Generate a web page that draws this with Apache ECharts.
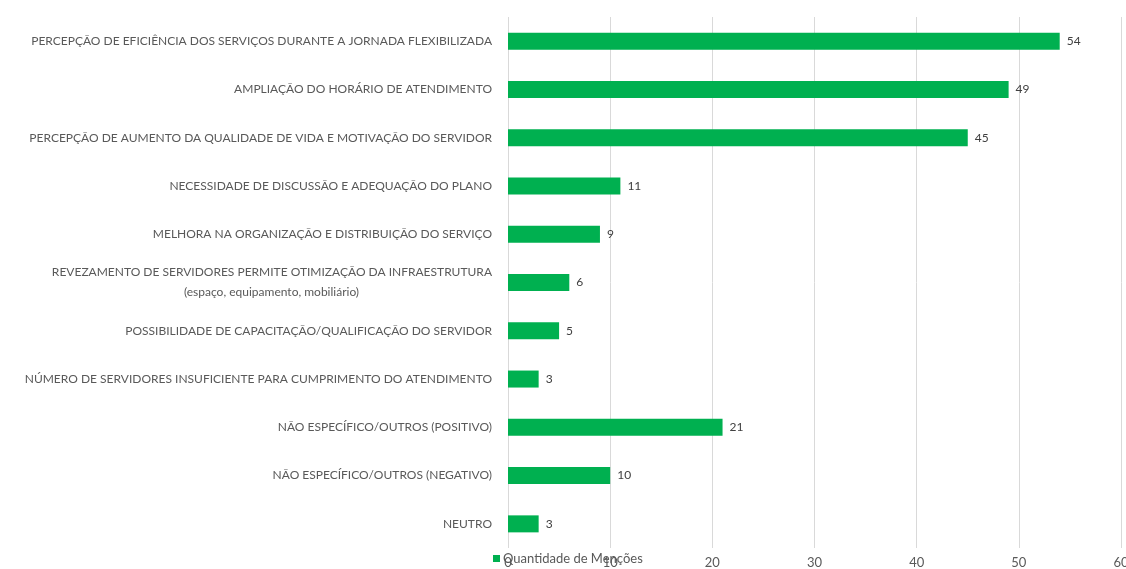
<!DOCTYPE html>
<html><head><meta charset="utf-8">
<script src="https://cdn.jsdelivr.net/npm/echarts@6/dist/echarts.min.js"></script>
<style>html,body{margin:0;padding:0;background:#fff}#c{width:1126px;height:569px}</style>
</head><body><div id="c"></div>
<script>
const categories = [
  "PERCEPÇÃO DE EFICIÊNCIA DOS SERVIÇOS DURANTE A JORNADA FLEXIBILIZADA",
  "AMPLIAÇÃO DO HORÁRIO DE ATENDIMENTO",
  "PERCEPÇÃO DE AUMENTO DA QUALIDADE DE VIDA E MOTIVAÇÃO DO SERVIDOR",
  "NECESSIDADE DE DISCUSSÃO E ADEQUAÇÃO DO PLANO",
  "MELHORA NA ORGANIZAÇÃO E DISTRIBUIÇÃO DO SERVIÇO",
  "REVEZAMENTO DE SERVIDORES PERMITE OTIMIZAÇÃO DA INFRAESTRUTURA\n(espaço, equipamento, mobiliário)",
  "POSSIBILIDADE DE CAPACITAÇÃO/QUALIFICAÇÃO DO SERVIDOR",
  "NÚMERO DE SERVIDORES INSUFICIENTE PARA CUMPRIMENTO DO ATENDIMENTO",
  "NÃO ESPECÍFICO/OUTROS (POSITIVO)",
  "NÃO ESPECÍFICO/OUTROS (NEGATIVO)",
  "NEUTRO"
];
const values = [54, 49, 45, 11, 9, 6, 5, 3, 21, 10, 3];
const seriesName = "Quantidade de Menções";
const xTicks = [0, 10, 20, 30, 40, 50, 60];

const FONT = "Lato";
const labelFontSize = 12;
const ctx = document.createElement('canvas').getContext('2d');
ctx.font = labelFontSize + "px " + FONT;

const chart = echarts.init(document.getElementById('c'));
chart.setOption({
  animation: false,
  textStyle: { fontFamily: FONT },
  grid: { left: 508, right: 5, top: 17, bottom: 21, containLabel: false, outerBoundsMode: 'none' },
  legend: {
    data: [seriesName], left: 488, top: 547, itemWidth: 7, itemHeight: 7, itemGap: 4,
    icon: 'rect', textStyle: { color: '#595959', fontSize: 13, fontFamily: FONT, padding: [0,0,0,-2] }
  },
  xAxis: {
    type: 'value', min: 0, max: 60, interval: 10,
    axisLine: { show: false }, axisTick: { show: false },
    splitLine: { lineStyle: { color: '#d9d9d9', width: 1 } },
    axisLabel: { color: '#595959', fontSize: 13, margin: 8,
      formatter: v => xTicks.includes(v) ? String(v) : '' }
  },
  yAxis: {
    type: 'category', data: categories, inverse: true,
    axisLine: { show: false }, axisTick: { show: false },
    axisLabel: {
      color: '#595959', fontSize: labelFontSize, margin: 16, lineHeight: 20,
      formatter: function (v) {
        const lines = v.split('\n');
        if (lines.length === 1) return '{a|' + v + '}';
        return '{a|' + lines[0] + '}\n{b|' + lines[1] + '}';
      },
      rich: {
        a: { color: '#595959', fontSize: labelFontSize, fontFamily: FONT, lineHeight: 20 },
        b: { color: '#595959', fontSize: labelFontSize, fontFamily: FONT, lineHeight: 20,
             align: 'center', width: Math.ceil(ctx.measureText(categories[5].split('\n')[0]).width) }
      }
    }
  },
  series: [{
    name: seriesName, type: 'bar', data: values, barWidth: 17,
    itemStyle: { color: '#00b050' },
    label: { show: true, position: 'right', distance: 7, color: '#404040', fontSize: 12, fontFamily: FONT }
  }]
});
</script></body></html>
